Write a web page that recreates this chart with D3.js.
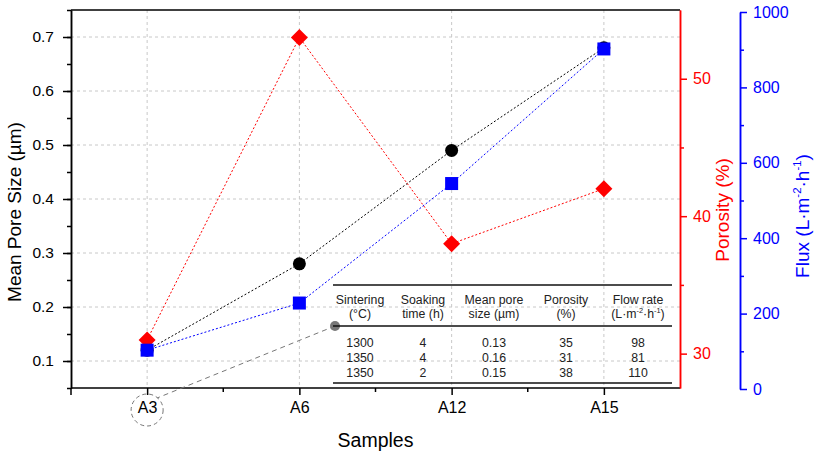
<!DOCTYPE html>
<html><head><meta charset="utf-8">
<script src="https://cdn.jsdelivr.net/npm/d3@7"></script>
<style>body{margin:0;background:#fff}svg{font-family:"Liberation Sans",Arial,sans-serif}</style>
</head><body><svg id="c" width="814" height="453"></svg>
<script>
const samples = ["A3","A6","A12","A15"];
const poreSize = [0.12, 0.28, 0.49, 0.68];
const porosity = [31.0, 53.0, 38.0, 42.0];
const flux = [103, 228, 545, 902];
const poreTicks = [0.1,0.2,0.3,0.4,0.5,0.6,0.7];
const porosityTicks = [30,40,50];
const fluxTicks = [0,200,400,600,800,1000];
const tableHeader = [["Sintering","(°C)"],["Soaking","time (h)"],["Mean pore","size (µm)"],["Porosity","(%)"],["Flow rate","FLOW"]];
const tableRows = [["1300","4","0.13","35","98"],["1350","4","0.16","31","81"],["1350","2","0.15","38","110"]];

const FF = "Liberation Sans, Arial, sans-serif";
const svg = d3.select("#c");
const L=71,R=680,T=10,B=388,R2=740;
const x = d3.scalePoint().domain(samples).range([L,R]).padding(0.5);
const yL = d3.scaleLinear().domain([0.05,0.75]).range([B,T]);
const yP = d3.scaleLinear().domain([27.5,55]).range([B,T]);
const yF = d3.scaleLinear().domain([0,1000]).range([389,12]);

// grid
const g = svg.append("g");
g.selectAll(".gh").data(poreTicks).join("line").attr("x1",L).attr("x2",R).attr("y1",d=>yL(d)).attr("y2",d=>yL(d))
 .attr("stroke","#c8c8c8").attr("stroke-dasharray","3,3");
g.selectAll(".gv").data(samples).join("line").attr("x1",d=>x(d)).attr("x2",d=>x(d)).attr("y1",T).attr("y2",B)
 .attr("stroke","#c8c8c8").attr("stroke-dasharray","3,3");

// left axis
const axL = svg.append("g").attr("transform",`translate(${L},0)`)
 .call(d3.axisLeft(yL).tickValues(d3.range(0.05,0.751,0.05).map(v=>+v.toFixed(2))).tickSize(4).tickSizeOuter(0).tickFormat(""));
axL.append("g").call(d3.axisLeft(yL).tickValues(poreTicks).tickSize(8).tickPadding(9).tickSizeOuter(0).tickFormat(d3.format(".1f")));
axL.selectAll("path,line").attr("stroke","#000").attr("stroke-width",1.5);
axL.selectAll("text").attr("font-size",15.5).attr("fill","#000").attr("font-family",FF);

// bottom axis
const axB = svg.append("g").attr("transform",`translate(0,${B})`);
const mids=[];
for(let i=0;i<samples.length-1;i++) mids.push((x(samples[i])+x(samples[i+1]))/2);
axB.append("line").attr("x1",L).attr("x2",R).attr("stroke","#000").attr("stroke-width",1.5);
axB.selectAll(".mt").data(mids).join("line").attr("x1",d=>d).attr("x2",d=>d).attr("y2",4).attr("stroke","#000").attr("stroke-width",1.5);
const axBx = axB.append("g").call(d3.axisBottom(x).tickSize(7).tickPadding(7).tickSizeOuter(0));
axBx.select(".domain").remove();
axBx.selectAll("line").attr("stroke","#000").attr("stroke-width",1.5);
axBx.selectAll("text").attr("font-size",16).attr("fill","#000").attr("font-family",FF);
axB.append("line").attr("x1",L).attr("x2",L).attr("y2",7).attr("stroke","#000").attr("stroke-width",1.5);

svg.append("line").attr("x1",L).attr("x2",R).attr("y1",T).attr("y2",T).attr("stroke","#000").attr("stroke-width",1.5);

// porosity axis
const axP = svg.append("g").attr("transform",`translate(${R},0)`);
axP.call(d3.axisRight(yP).tickValues([35,45]).tickSize(4).tickFormat("").tickSizeOuter(0));
axP.append("g").call(d3.axisRight(yP).tickValues(porosityTicks).tickSize(7).tickPadding(6).tickSizeOuter(0));
axP.selectAll("path,line").attr("stroke","#ff0000").attr("stroke-width",1.5);
axP.selectAll("text").attr("font-size",16).attr("fill","#ff0000").attr("font-family",FF);

// flux axis
const axF = svg.append("g").attr("transform",`translate(${R2},0)`);
axF.call(d3.axisRight(yF).tickValues(d3.range(100,1000,200)).tickSize(4).tickFormat("").tickSizeOuter(0));
axF.append("g").call(d3.axisRight(yF).tickValues(fluxTicks).tickSize(7).tickPadding(6).tickSizeOuter(0).tickFormat(d3.format("d")));
axF.selectAll("path,line").attr("stroke","#0000ff").attr("stroke-width",1.5);
axF.selectAll("text").attr("font-size",16).attr("fill","#0000ff").attr("font-family",FF);

// titles
svg.append("text").attr("x",(L+R)/2).attr("y",447).attr("text-anchor","middle").attr("font-size",19.5).text("Samples");
svg.append("text").attr("transform",`translate(21,212) rotate(-90)`).attr("text-anchor","middle").attr("font-size",19).text("Mean Pore Size (µm)");
svg.append("text").attr("transform",`translate(728.5,210) rotate(-90)`).attr("text-anchor","middle").attr("font-size",19).attr("fill","#ff0000").text("Porosity (%)");
const ft = svg.append("text").attr("transform",`translate(809,216) rotate(-90)`).attr("text-anchor","middle").attr("font-size",19).attr("fill","#0000ff");
function fluxUnit(t,fs){
  t.append("tspan").text("(L·m");
  t.append("tspan").attr("font-size",fs*0.6).attr("dy",-fs*0.4).text("-2");
  t.append("tspan").attr("dy",fs*0.4).text("·h");
  t.append("tspan").attr("font-size",fs*0.6).attr("dy",-fs*0.4).text("-1");
  t.append("tspan").attr("dy",fs*0.4).text(")");
}
ft.append("tspan").text("Flux ");
fluxUnit(ft,19);

// lines
function series(vals,yS,color){
  const line=d3.line().x((d,i)=>x(samples[i])).y(d=>yS(d));
  svg.append("path").datum(vals).attr("d",line).attr("fill","none").attr("stroke",color).attr("stroke-width",1).attr("stroke-dasharray","2,2");
}
series(poreSize,yL,"#000");
series(porosity,yP,"#ff0000");
series(flux,yF,"#0000ff");
svg.selectAll(".c").data(poreSize).join("circle").attr("cx",(d,i)=>x(samples[i])).attr("cy",d=>yL(d)).attr("r",6.5).attr("fill","#000");
svg.selectAll(".dm").data(porosity).join("path").attr("transform",(d,i)=>`translate(${x(samples[i])},${yP(d)})`)
 .attr("d","M0,-8.5L8.5,0L0,8.5L-8.5,0Z").attr("fill","#ff0000");
svg.selectAll(".sq").data(flux).join("rect").attr("x",(d,i)=>x(samples[i])-6.5).attr("y",d=>yF(d)-6.5).attr("width",13).attr("height",13).attr("fill","#0000ff");

// callout
svg.append("circle").attr("cx",x("A3")).attr("cy",410).attr("r",16).attr("fill","none").attr("stroke","#777").attr("stroke-dasharray","4,3");
svg.append("line").attr("x1",335).attr("y1",326).attr("x2",x("A3")+10).attr("y2",398).attr("stroke","#777").attr("stroke-dasharray","5,4");
svg.append("circle").attr("cx",335).attr("cy",326).attr("r",5).attr("fill","#777");

// table
const tb = svg.append("g").attr("font-size",12.3).attr("fill","#222");
const cols=[360,423,494,566,638];
[285,326,383].forEach(yy=>tb.append("line").attr("x1",333).attr("x2",672).attr("y1",yy).attr("y2",yy).attr("stroke","#111").attr("stroke-width",1.3));
tableHeader.forEach((h,i)=>{
  tb.append("text").attr("x",cols[i]).attr("y",304).attr("text-anchor","middle").text(h[0]);
  const t2=tb.append("text").attr("x",cols[i]).attr("y",318).attr("text-anchor","middle");
  if(h[1]==="FLOW") fluxUnit(t2,12.3); else t2.text(h[1]);
});
tableRows.forEach((r,j)=>r.forEach((v,i)=>{
  tb.append("text").attr("x",cols[i]).attr("y",347+j*15).attr("text-anchor","middle").text(v);
}));
</script></body></html>
